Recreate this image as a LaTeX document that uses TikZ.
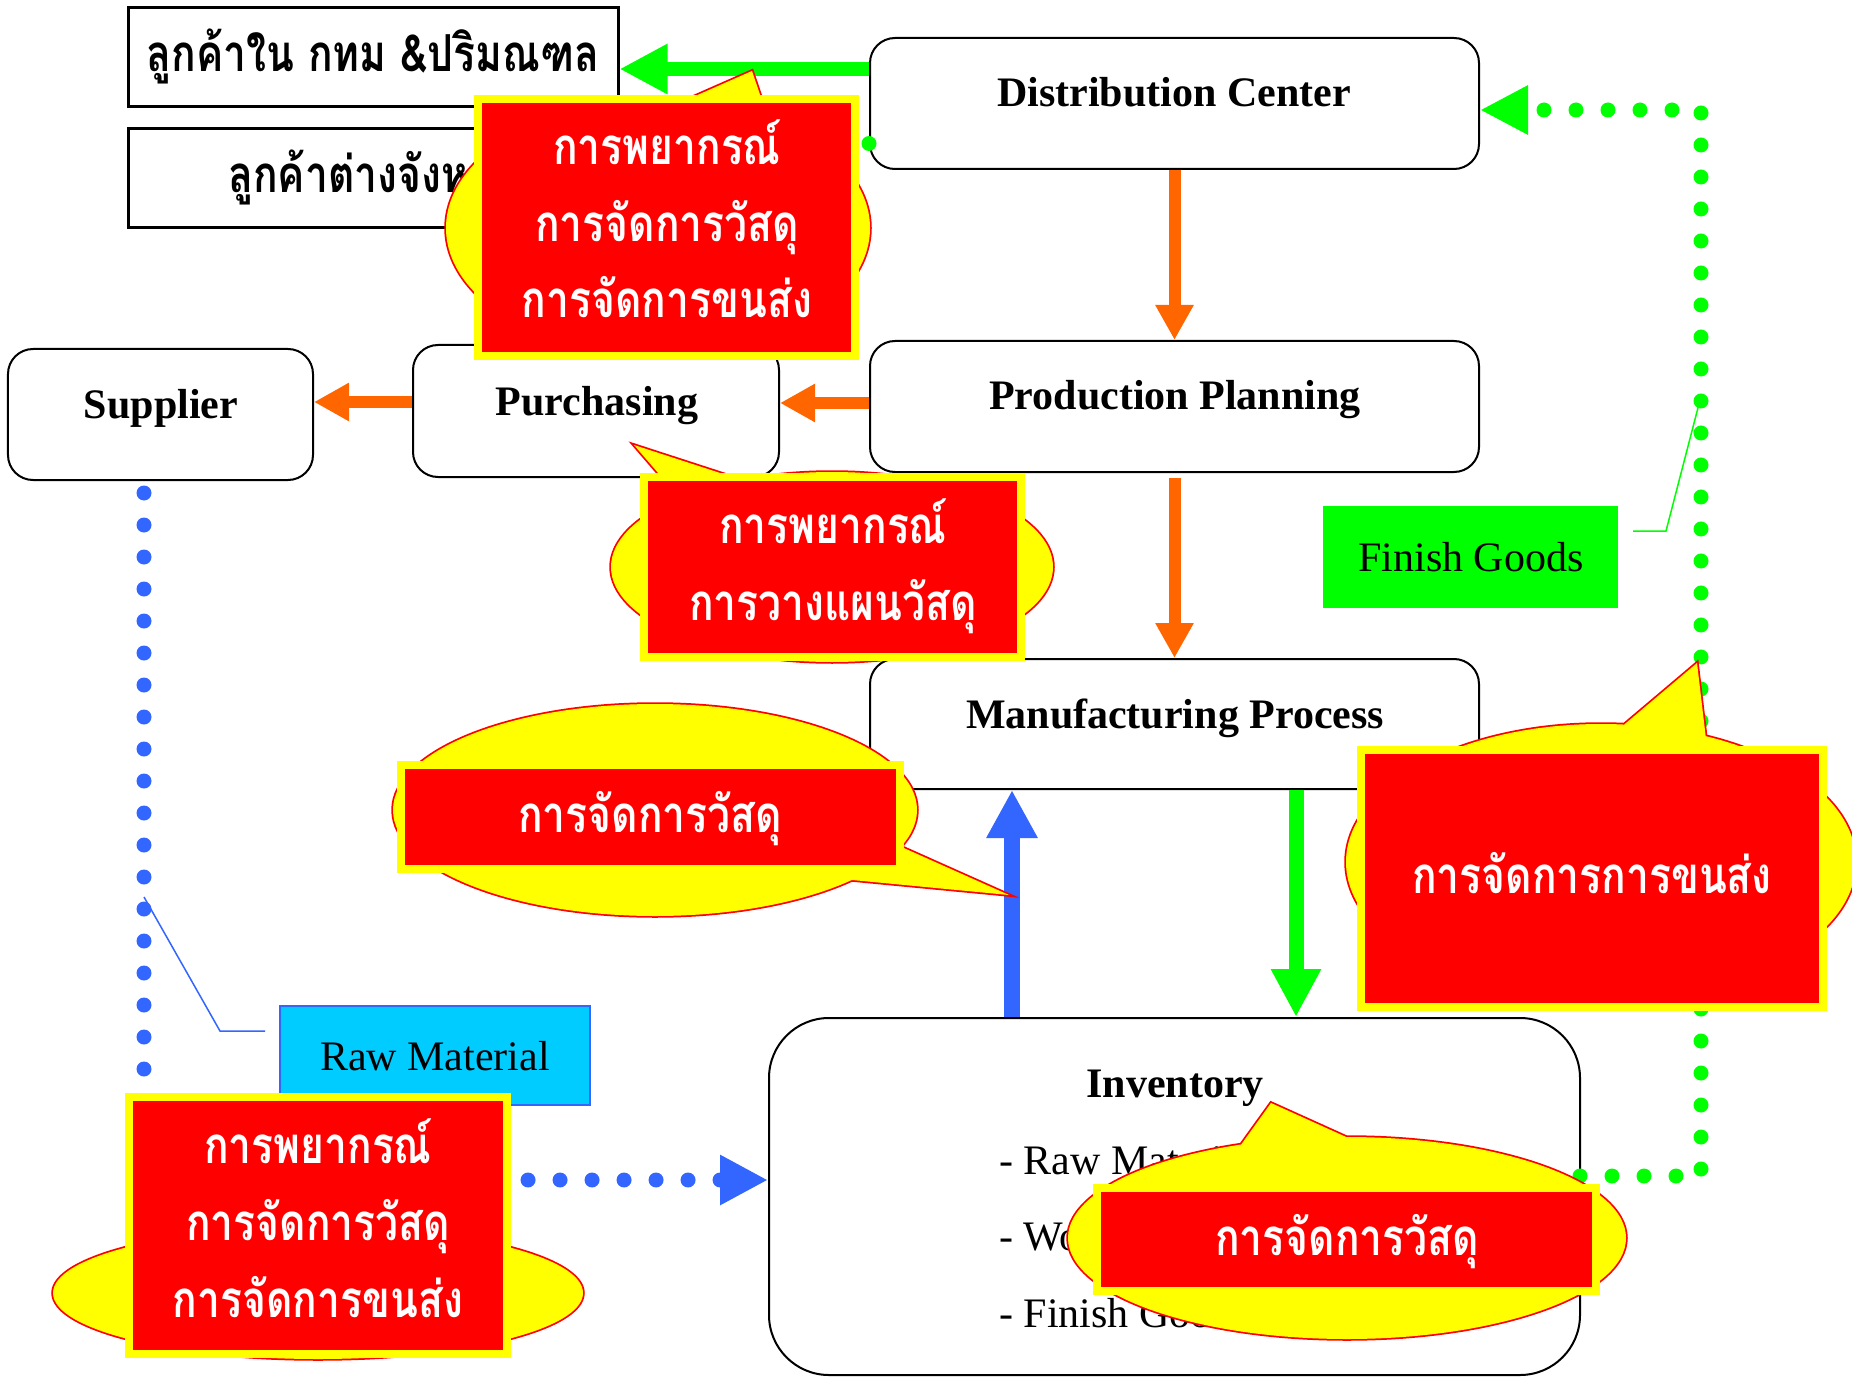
\documentclass[tikz,border=0pt]{standalone}
\usepackage{fontspec}
\setmainfont{Liberation Serif}
\newfontfamily\thai[Script=Thai,FakeStretch=0.8]{Loma}
\usetikzlibrary{arrows.meta,calc}
\definecolor{cOr}{HTML}{FF6600}
\definecolor{cGr}{HTML}{00FF00}
\definecolor{cBl}{HTML}{3366FF}
\definecolor{cCy}{HTML}{00CCFF}
\definecolor{cRd}{HTML}{FF0000}
\definecolor{cYe}{HTML}{FFFF00}
\begin{document}
\begin{tikzpicture}[x=1bp,y=-1bp,
  lat/.style={font=\fontsize{42bp}{48bp}\selectfont},
  latb/.style={font=\fontsize{42bp}{48bp}\selectfont\bfseries},
  th/.style={font=\thai\fontsize{51bp}{60bp}\selectfont\bfseries},
  thw/.style={th, text=white},
  flowbox/.style={draw=black, line width=2bp, rounded corners=25bp, fill=white, inner sep=0pt},
  custbox/.style={draw=black, line width=3bp, fill=white, inner sep=0pt},
  txt/.style={inner sep=0pt, anchor=base},
  redbox/.style={draw=cYe, fill=cRd, line width=8bp, inner sep=0pt},
  bubble/.style={draw=cRd, line width=3.5bp, fill=cYe},
  orarrow/.style={draw=cOr, line width=12bp, -{Triangle[length=35bp,width=36bp]}},
  grarrow/.style={draw=cGr, line width=15bp, -{Triangle[length=48bp,width=47bp]}},
  blarrow/.style={draw=cBl, line width=16bp, -{Triangle[length=48bp,width=48bp]}},
  gdots/.style={draw=cGr, line width=15bp, line cap=round, dash pattern=on 0bp off 32bp},
  bdots/.style={draw=cBl, line width=15bp, line cap=round, dash pattern=on 0bp off 32bp},
  leader/.style={line width=1.5bp}
]
\useasboundingbox (0,0) rectangle (1852,1377);
\fill[white] (0,0) rectangle (1852,1377);

% ---------- boxes ----------
\node[custbox, minimum width=489bp, minimum height=99bp] (b1) at (373.5,57.5) {};
\node[custbox, minimum width=489bp, minimum height=99bp] (b2) at (373.5,178.5) {};
\node[flowbox, minimum width=609bp, minimum height=131bp] (dc) at (1174.5,103.5) {};
\node[flowbox, minimum width=609bp, minimum height=131bp] (pp) at (1174.5,406.5) {};
\node[flowbox, minimum width=305bp, minimum height=131bp] (sup) at (160.5,414.5) {};
\node[flowbox, minimum width=366bp, minimum height=132bp] (pu) at (596,411) {};
\node[flowbox, minimum width=609bp, minimum height=130bp] (mp) at (1174.5,724) {};
\node[flowbox, rounded corners=60bp, minimum width=811bp, minimum height=357bp] (inv) at (1174.5,1196.5) {};
\node[draw=cBl, line width=2bp, fill=cCy, inner sep=0pt, minimum width=310bp, minimum height=99bp] (rm) at (435,1055.5) {};
\node[fill=cGr, inner sep=0pt, minimum width=295bp, minimum height=102bp] (fg) at (1470.5,557) {};

% ---------- texts ----------
\node[txt, th] (b1t) at (373,72) {ลูกค้าใน กทม \&ปริมณฑล};
\node[txt, th] (b2t) at (373,193) {ลูกค้าต่างจังหวัด};
\node[txt, latb] (dct) at (1174,107) {Distribution Center};
\node[txt, latb] (ppt) at (1175,409) {Production Planning};
\node[txt, latb] (supt) at (161,418) {Supplier};
\node[txt, latb] (put) at (597,415) {Purchasing};
\node[txt, latb] (mpt) at (1175,728) {Manufacturing Process};
\node[txt, latb] (invt) at (1175,1097) {Inventory};
\node[txt, lat, anchor=base west] (i1) at (999,1174) {- Raw Material};
\node[txt, lat, anchor=base west] (i2) at (999,1250) {- Work in Process};
\node[txt, lat, anchor=base west] (i3) at (999,1327) {- Finish Goods};
\node[txt, lat] (rmt) at (435,1070) {Raw Material};
\node[txt, lat] (fgt) at (1471,571) {Finish Goods};

% ---------- leaders ----------
\coordinate (rmA) at (265,1031);
\coordinate (rmB) at (220,1031);
\coordinate (rmC) at (144,897);
\draw[cBl, leader] (rmA) -- (rmB) -- (rmC);
\coordinate (fgA) at (1633,531);
\coordinate (fgB) at (1666,531);
\coordinate (fgC) at (1700,400);
\draw[cGr, leader] (fgA) -- (fgB) -- (fgC);

% ---------- connectors ----------
\draw[grarrow, line width=14bp] (dc.west |- 0,69) -- (b1.east |- 0,69);
\draw[gdots, -{Triangle[length=48bp,width=46bp]}] ($(dc.west)+(0,40)$) -- (b2.east |- 0,144);
\draw[orarrow] (dc.south) -- (pp.north);
\draw[orarrow] ($(pp.south)+(0,5)$) -- (mp.north);
\draw[orarrow] (pp.west |- 0,403) -- (pu.east |- 0,403);
\draw[orarrow] (pu.west |- 0,402) -- (sup.east |- 0,402);
\draw[blarrow] (1012,0 |- inv.north) -- (1012,0 |- mp.south);
\draw[grarrow] (1296,0 |- mp.south) -- (1296,0 |- inv.north);
\coordinate (bS) at (144,493);
\coordinate (bC) at (144,1180);
\draw[bdots, rounded corners=35bp, -{Triangle[length=48bp,width=47bp]}] (bS) -- (bC) -- (inv.west |- bC);
\coordinate (gS) at (1580,1176);
\coordinate (gC1) at (1701,1176);
\coordinate (gC2) at (1701,110);
\draw[gdots, -{Triangle[length=48bp,width=46bp]}] (gS) -- (gC1) -- (gC2) -- (dc.east |- gC2);

% ---------- callouts ----------
% 1
\filldraw[bubble] (658,228) ellipse [x radius=212, y radius=128] (618,130) -- (752,71) -- (772,130) -- cycle;
\fill[cYe] (658,228) ellipse [x radius=212, y radius=128] (618,130) -- (752,71) -- (772,130) -- cycle;
\node[redbox, minimum width=377bp, minimum height=257bp] (c1) at (666.5,227.5) {};
\node[txt, thw] (c1a) at (667,165) {การพยากรณ์};
\node[txt, thw] (c1b) at (667,242) {การจัดการวัสดุ};
\node[txt, thw] (c1c) at (667,318) {การจัดการขนส่ง};
% 2
\filldraw[bubble] (832,567) ellipse [x radius=221, y radius=95] (690,510) -- (634,445) -- (834,510) -- cycle;
\fill[cYe] (832,567) ellipse [x radius=221, y radius=95] (690,510) -- (634,445) -- (834,510) -- cycle;
\node[redbox, minimum width=377bp, minimum height=180bp] (c2) at (832.5,567) {};
\node[txt, thw] (c2a) at (833,543) {การพยากรณ์};
\node[txt, thw] (c2b) at (833,620) {การวางแผนวัสดุ};
% 3
\filldraw[bubble] (655,810) ellipse [x radius=262, y radius=106] (850,824) -- (1009,895) -- (800,875) -- cycle;
\fill[cYe] (655,810) ellipse [x radius=262, y radius=106] (850,824) -- (1009,895) -- (800,875) -- cycle;
\node[redbox, minimum width=499bp, minimum height=104bp] (c3) at (650.5,817) {};
\node[txt, thw] (c3a) at (650,832) {การจัดการวัสดุ};
% 4
\filldraw[bubble] (1601,862) ellipse [x radius=255, y radius=138] (1613,734) -- (1697,663) -- (1712,790) -- cycle;
\fill[cYe] (1601,862) ellipse [x radius=255, y radius=138] (1613,734) -- (1697,663) -- (1712,790) -- cycle;
\node[redbox, minimum width=462bp, minimum height=257bp] (c4) at (1592,878.5) {};
\node[txt, thw] (c4a) at (1592,893) {การจัดการการขนส่ง};
% 5
\filldraw[bubble] (1347,1238) ellipse [x radius=279, y radius=101] (1230,1160) -- (1271,1103) -- (1375,1150) -- cycle;
\fill[cYe] (1347,1238) ellipse [x radius=279, y radius=101] (1230,1160) -- (1271,1103) -- (1375,1150) -- cycle;
\node[redbox, minimum width=499bp, minimum height=103bp] (c5) at (1346.5,1239.5) {};
\node[txt, thw] (c5a) at (1347,1255) {การจัดการวัสดุ};
% 6
\filldraw[bubble] (318,1293) ellipse [x radius=265, y radius=66];
\fill[cYe] (318,1293) ellipse [x radius=265, y radius=66];
\node[redbox, minimum width=378bp, minimum height=257bp] (c6) at (318,1225.5) {};
\node[txt, thw] (c6a) at (318,1163) {การพยากรณ์};
\node[txt, thw] (c6b) at (318,1240) {การจัดการวัสดุ};
\node[txt, thw] (c6c) at (318,1317) {การจัดการขนส่ง};
\end{tikzpicture}
\end{document}
